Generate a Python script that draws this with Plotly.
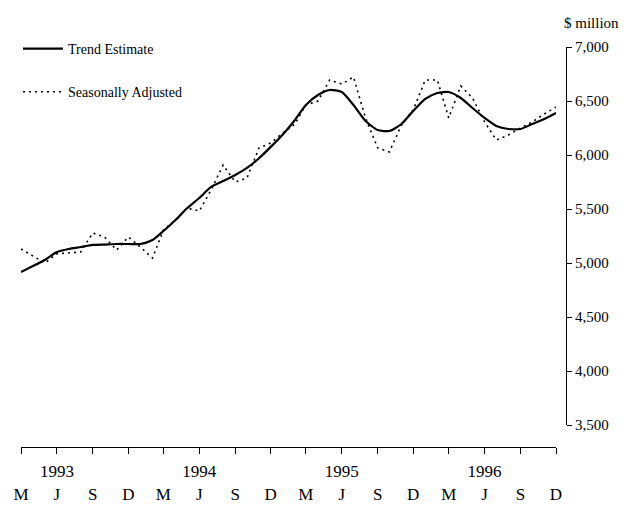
import plotly.graph_objects as go
import pandas as pd

# Monthly data, March 1993 - December 1996 ($ million)
months = pd.date_range("1993-03-01", "1996-12-01", freq="MS")
trend_estimate = [4917, 4972, 5028, 5102, 5130, 5148, 5167, 5171, 5176, 5176,
                  5176, 5213, 5296, 5398, 5509, 5602, 5704, 5759, 5815, 5880,
                  5970, 6075, 6190, 6324, 6463, 6556, 6602, 6583, 6463, 6315,
                  6231, 6222, 6287, 6407, 6519, 6574, 6583, 6528, 6435, 6343,
                  6269, 6241, 6241, 6287, 6333, 6389]
seasonally_adjusted = [5130, 5065, 5000, 5085, 5093, 5102, 5278, 5241, 5120, 5241,
                       5148, 5046, 5306, 5398, 5509, 5481, 5676, 5907, 5750, 5787,
                       6065, 6111, 6204, 6287, 6463, 6500, 6694, 6657, 6722, 6343,
                       6065, 6028, 6278, 6417, 6694, 6694, 6343, 6639, 6528, 6306,
                       6139, 6185, 6250, 6306, 6380, 6444]

# Quarterly ticks
tick_dates = pd.date_range("1993-03-01", "1996-12-01", freq="3MS")
month_letters = ["M", "J", "S", "D"] * 4
year_labels = ["", "1993", "", "", "", "1994", "", "", "", "1995", "", "", "", "1996", "", ""]
tick_text = [f"{y if y else chr(160)}<br>{m}" for y, m in zip(year_labels, month_letters)]

y_ticks = [3500, 4000, 4500, 5000, 5500, 6000, 6500, 7000]

FONT = "Liberation Serif"

fig = go.Figure()
fig.add_trace(go.Scatter(
    x=months, y=trend_estimate, mode="lines", name="Trend Estimate",
    line=dict(color="black", width=2.2, shape="spline", smoothing=0.6),
    legendgroup="a",
))
fig.add_trace(go.Scatter(
    x=months, y=seasonally_adjusted, mode="lines", name="Seasonally Adjusted",
    line=dict(color="black", width=1.6, dash="2px,4px"),
    legendgroup="b",
))

W, H = 632, 506
L, R, T, B = 21, 66, 47, 59
pw = W - L - R
ph = H - T - B

fig.update_layout(
    width=W, height=H,
    margin=dict(l=L, r=R, t=T, b=B, pad=0, autoexpand=False),
    paper_bgcolor="white", plot_bgcolor="white",
    font=dict(family=FONT, color="black", size=15),
    showlegend=True,
    legend=dict(
        x=(18 - L) / pw, y=1 + (T - 33) / ph, xanchor="left", yanchor="top",
        font=dict(family=FONT, size=14, color="black"),
        tracegroupgap=22, bgcolor="rgba(0,0,0,0)", itemwidth=40,
    ),
    xaxis=dict(
        domain=[0, (556 - L) / pw],
        anchor="free", position=0, automargin=False,
        range=[months[0], months[-1]],
        showgrid=False, zeroline=False,
        showline=True, linecolor="black", linewidth=1,
        ticks="outside", ticklen=6, tickcolor="black", tickwidth=1,
        tickmode="array", tickvals=tick_dates, ticktext=tick_text,
        tickfont=dict(family=FONT, size=17, color="black"),
        ticklabelstandoff=3,
    ),
    yaxis=dict(
        domain=[(H - B - 425) / ph, 1],
        anchor="free", position=1, side="right", automargin=False,
        range=[3500, 7000],
        showgrid=False, zeroline=False,
        showline=True, linecolor="black", linewidth=1,
        ticks="outside", ticklen=5, tickcolor="black", tickwidth=1,
        tickmode="array", tickvals=y_ticks, tickformat=",",
        tickfont=dict(family=FONT, size=15, color="black"),
    ),
    annotations=[dict(
        text="$ million", xref="paper", yref="paper",
        x=1 + (562 - (L + pw)) / pw, y=1 + (T - 23) / ph,
        xanchor="left", yanchor="middle", showarrow=False,
        font=dict(family=FONT, size=15, color="black"),
    )],
)

fig.write_html(
    "out.html",
    config={"displayModeBar": False},
    post_script="document.body.style.margin='0';document.body.style.overflow='hidden';",
)
